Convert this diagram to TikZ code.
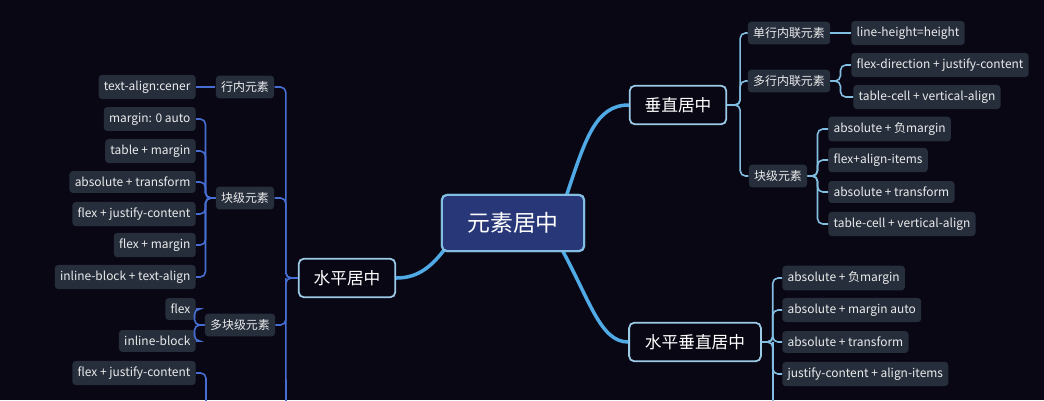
\documentclass[tikz,border=0pt]{standalone}
\usepackage{fontspec}
\setmainfont{Noto Sans CJK SC}
\usetikzlibrary{positioning}
\definecolor{mapbg}{RGB}{10, 7, 20}
\definecolor{rootfill}{RGB}{40, 55, 120}
\definecolor{leaffill}{RGB}{38, 46, 60}
\definecolor{leftline}{RGB}{70, 110, 210}
\definecolor{rightline}{RGB}{130, 190, 225}
\definecolor{trunkline}{RGB}{80, 170, 230}
\tikzset{
    root/.style={
        rectangle,
        rounded corners=3pt,
        draw=rightline,
        line width=1.2pt,
        fill=rootfill,
        text=white,
        font=\fontsize{13}{15}\selectfont,
        minimum height=32pt,
        minimum width=81pt
    },
    branch/.style={
        rectangle,
        rounded corners=3pt,
        draw=rightline!80!white,
        line width=1pt,
        fill=mapbg,
        text=white,
        font=\fontsize{9.5}{11}\selectfont,
        minimum height=22pt
    },
    leaf/.style={
        rectangle,
        rounded corners=2pt,
        fill=leaffill,
        text=white!85!gray,
        font=\fontsize{6.8}{8}\selectfont,
        inner xsep=3pt,
        minimum height=12.5pt
    },
    leftlink/.style={draw=leftline, line width=0.9pt, rounded corners=3pt},
    rightlink/.style={draw=rightline, line width=0.9pt, rounded corners=3pt},
    trunk/.style={draw=trunkline, line width=2pt}
}

\begin{document}
\begin{tikzpicture}[x=0.02cm, y=-0.02cm]

    % Background
    \fill[mapbg] (0,0) rectangle (1044,400);
    \useasboundingbox (0,0) rectangle (1044,400);
    \clip (0,0) rectangle (1044,400);

    % Root connections
    \coordinate (rootne) at (565,200);
    \coordinate (rootse) at (560,246);
    \coordinate (rootsw) at (447,246);

    % Main nodes
    \node[root] (center) at (513,223) {元素居中};
    \node[branch, minimum width=55pt] (vert) at (678,105) {垂直居中};
    \node[branch, minimum width=55pt] (horiz) at (347,278) {水平居中};
    \node[branch, minimum width=75pt] (both) at (695,342) {水平垂直居中};

    % Vertical centering
    \node[leaf] (v1) at (789,33) {单行内联元素};
    \node[leaf] (v1a) at (908,33) {line-height=height};
    \node[leaf] (v2) at (789,81) {多行内联元素};
    \node[leaf] (v2a) at (940,65) {flex-direction + justify-content};
    \node[leaf] (v2b) at (927,97) {table-cell + vertical-align};
    \node[leaf] (v3) at (778,176) {块级元素};
    \node[leaf, anchor=west] (v3a) at (828,129) {absolute + 负margin};
    \node[leaf, anchor=west] (v3b) at (828,160) {flex+align-items};
    \node[leaf, anchor=west] (v3c) at (828,192) {absolute + transform};
    \node[leaf, anchor=west] (v3d) at (828,224) {table-cell + vertical-align};

    % Both directions
    \node[leaf, anchor=west] (b1) at (782,278) {absolute + 负margin};
    \node[leaf, anchor=west] (b2) at (782,310) {absolute + margin auto};
    \node[leaf, anchor=west] (b3) at (782,342) {absolute + transform};
    \node[leaf, anchor=west] (b4) at (782,374) {justify-content + align-items};

    % Horizontal centering
    \node[leaf] (h1) at (245,87) {行内元素};
    \node[leaf, anchor=east] (h1a) at (196,87) {text-align:cener};
    \node[leaf] (h2) at (245,198) {块级元素};
    \node[leaf, anchor=east] (h2a) at (196,119) {margin: 0 auto};
    \node[leaf, anchor=east] (h2b) at (196,151) {table + margin};
    \node[leaf, anchor=east] (h2c) at (196,182) {absolute + transform};
    \node[leaf, anchor=east] (h2d) at (196,214) {flex + justify-content};
    \node[leaf, anchor=east] (h2e) at (196,245) {flex + margin};
    \node[leaf, anchor=east] (h2f) at (196,277) {inline-block + text-align};
    \node[leaf] (h3) at (240,325) {多块级元素};
    \node[leaf, anchor=east] (h3a) at (196,309) {flex};
    \node[leaf, anchor=east] (h3b) at (196,341) {inline-block};
    \node[leaf, anchor=east] (h4a) at (196,373) {flex + justify-content};
    \coordinate (hend) at (286,410);

    \begin{scope}[on background layer/.style={}]
    \draw[trunk] (rootne) .. controls (585,140) and (595,105) .. (vert.west);
    \draw[trunk] (rootse) .. controls (590,300) and (600,342) .. (both.west);
    \draw[trunk] (rootsw) .. controls (430,270) and (415,278) .. (horiz.east);
    \end{scope}
    \node[root] at (center) {元素居中};

    % Right brackets
    \foreach \c in {v1,v2,v3}
        \path[rightlink] (vert.east) -- ++(13,0) |- (\c.west);
    \draw[rightlink] (v1.east) -- (v1a.west);
    \foreach \c in {v2a,v2b}
        \path[rightlink] (v2.east) -- ++(10,0) |- (\c.west);
    \foreach \c in {v3a,v3b,v3c,v3d}
        \path[rightlink] (v3.east) -- ++(10,0) |- (\c.west);
    \foreach \c in {b1,b2,b3,b4}
        \path[rightlink] (both.east) -- ++(11,0) |- (\c.west);
    \draw[rightlink] (both.east) ++(11,0) -- ++(0,70);

    % Left brackets
    \foreach \c in {h1,h2,h3}
        \path[leftlink] (horiz.west) -- ++(-12,0) |- (\c.east);
    \draw[leftlink] (horiz.west) ++(-12,0) -- (hend);
    \draw[leftlink] (h1.west) -- (h1a.east);
    \foreach \c in {h2a,h2b,h2c,h2d,h2e,h2f}
        \path[leftlink] (h2.west) -- ++(-10,0) |- (\c.east);
    \foreach \c in {h3a,h3b}
        \path[leftlink] (h3.west) -- ++(-10,0) |- (\c.east);
    \draw[leftlink] (h4a.east) -| ++(10,40);

\end{tikzpicture}
\end{document}
